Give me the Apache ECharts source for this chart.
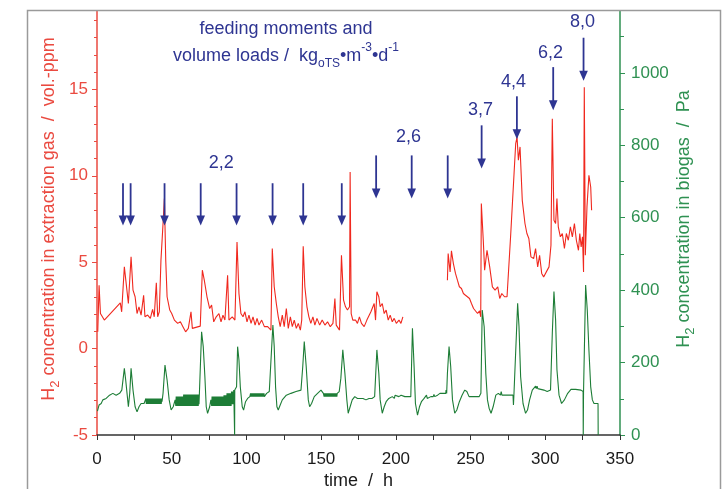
<!DOCTYPE html>
<html><head><meta charset="utf-8">
<script src="https://cdn.jsdelivr.net/npm/echarts@6/dist/echarts.min.js"></script>
<style>html,body{margin:0;padding:0;background:#fff}#c{width:726px;height:489px}</style>
</head><body><div id="c"></div>
<script>
// ---- data (time in h) ----
const xTicks = [0, 50, 100, 150, 200, 250, 300, 350];
const leftTicks = [-5, 0, 5, 10, 15];
const rightTicks = [0, 200, 400, 600, 800, 1000];

// H2 in extraction gas (vol.-ppm), [time, value]; null = gap
const h2Extraction = [
[0.5,0.97],[1.4,3.67],[2.3,2.03],[4.9,1.65],[15.6,2.65],[16.5,2.13],[18.3,4.73],[19.2,4.62],[21.0,2.61],[22.8,5.31],[24.1,3.38],[25.5,3.0],[26.8,2.03],[28.1,2.42],[29.5,1.94],[31.2,3.09],[32.1,1.84],[33.9,1.94],[35.7,1.75],[37.2,2.27],[38.3,1.84],[39.7,3.81],[40.6,1.84],[41.7,2.13],[42.8,5.12],[44.2,7.24],[45.1,8.68],[46.0,5.12],[46.9,3.0],[48.7,2.23],[50.0,2.03],[51.8,1.65],[54.0,1.46],[55.8,1.55],[57.5,1.27],[59.3,0.97],[61.1,1.17],[62.9,2.13],[63.8,1.17],[69.1,1.30],[70.5,4.54],[71.8,3.96],[73.6,3.0],[75.4,2.32],[76.7,2.52],[78.1,1.55],[79.8,1.84],[81.6,2.03],[83.0,1.55],[84.3,1.94],[85.6,1.65],[87.4,4.25],[88.3,1.65],[90.5,1.84],[92.3,1.65],[93.7,6.17],[95.0,3.19],[96.3,2.03],[97.7,1.84],[99.0,2.13],[100.4,1.55],[101.7,1.94],[103.1,1.46],[104.4,1.84],[105.8,1.36],[107.1,1.75],[108.4,1.36],[110.2,1.65],[112.0,1.27],[114.2,1.27],[116.4,1.07],[117.3,5.79],[118.6,3.58],[120.0,2.61],[121.3,1.84],[122.6,1.27],[124.0,1.94],[125.3,1.27],[126.7,2.32],[128.0,1.17],[129.4,1.84],[130.7,1.27],[132.0,1.65],[133.4,1.17],[134.7,1.46],[136.1,1.07],[137.0,1.65],[138.0,5.92],[139.1,3.58],[140.5,2.42],[141.8,1.84],[143.1,1.46],[144.5,1.84],[145.8,1.36],[147.2,1.75],[149.0,1.36],[150.7,1.65],[152.5,1.36],[154.3,1.55],[156.1,1.27],[157.9,1.46],[159.2,2.90],[160.1,1.36],[162.3,1.07],[163.6,5.40],[165.0,2.80],[166.3,2.42],[167.6,2.23],[169.0,2.42],[169.4,10.22],[170.1,2.03],[171.2,1.65],[173.0,1.65],[174.3,1.46],[175.6,1.84],[177.0,1.46],[178.8,1.27],[180.6,1.65],[181.9,1.55],[183.3,2.13],[184.6,2.03],[185.5,2.61],[186.4,1.65],[187.3,3.29],[188.6,3.0],[189.5,2.42],[190.9,2.61],[192.2,2.03],[193.5,2.23],[194.9,1.65],[196.2,1.94],[197.6,1.55],[198.9,1.75],[200.3,1.46],[202.1,1.65],[203.4,1.46],[204.7,1.84],
[220,null],
[234.5,3.96],[235.0,5.50],[236.3,4.44],[237.2,5.66],[238.5,4.92],[239.9,4.35],[241.2,3.96],[242.5,3.58],[243.9,3.48],[245.2,3.19],[246.6,3.09],[247.9,3.09],[249.3,2.90],[250.6,2.61],[252.0,2.32],[253.3,2.23],[254.7,2.03],[256.0,2.19],[256.8,1.84],[257.2,8.39],[258.5,6.27],[259.4,4.54],[261.0,5.69],[262.8,4.73],[264.6,3.57],[266.4,3.38],[268.2,3.57],[269.5,2.90],[270.9,3.19],[272.7,3.0],[274.4,3.0],[276.9,6.66],[279.1,10.13],[280.2,11.86],[281.1,12.24],[282.0,10.9],[283.1,11.67],[284.6,8.58],[286.4,7.24],[287.7,6.66],[289.0,6.37],[290.4,5.31],[292.2,5.21],[293.5,5.79],[294.9,4.73],[296.2,5.40],[297.6,4.35],[298.9,4.15],[300.7,4.44],[302.5,4.73],[303.8,5.98],[304.7,13.3],[305.8,7.43],[306.9,7.24],[307.8,8.68],[308.7,7.05],[310.1,6.47],[311.4,6.66],[312.8,5.79],[314.1,6.66],[315.4,6.27],[316.8,7.05],[318.1,6.47],[319.5,7.24],[320.8,6.27],[322.2,5.69],[323.1,6.66],[324.0,5.88],[324.9,6.47],[325.6,4.44],[326.1,15.13],[326.8,5.40],[327.9,8.2],[329.2,10.03],[330.4,9.35],[331.0,8.01]
];

// H2 in biogas (Pa), [time, value]
const h2Biogas = [
[0.3,66],[1.4,83],[2.8,87],[3.9,97],[6.1,101],[8.4,110],[10.6,115],[12.8,110],[13.3,115],[15.1,115],[16.6,124],[17.3,124],[18.3,184],[19.2,152],[20.1,115],[21.0,78],[21.9,115],[22.8,184],[24.1,124],[25.5,78],[26.8,64],[28.1,78],[29.5,87],[31.5,87],[32.0,92],
[32.5,86],[32.75,101],[33,86],[33.25,101],[33.5,86],[33.75,101],[34,86],[34.25,101],[34.5,86],[34.75,101],[35,86],[35.25,101],[35.5,86],[35.75,101],[36,86],[36.25,101],[36.5,86],[36.75,101],[37,86],[37.25,101],[37.5,86],[37.75,101],[38,86],[38.25,101],[38.5,86],[38.75,101],[39,86],[39.25,101],[39.5,86],[39.75,101],[40,86],[40.25,101],[40.5,86],[40.75,101],[41,86],[41.25,101],[41.5,86],[41.75,101],[42,86],[42.25,101],[42.5,86],[42.75,101],[43,86],[43.25,101],[43.5,92],
[44.2,115],[45.5,193],[46.9,152],[48.3,97],[49.6,69],[51.0,78],[52.3,97],
[52.75,80],[53,106],[53.25,80],[53.5,106],[53.75,80],[54,106],[54.25,80],[54.5,106],[54.75,80],[55,106],[55.25,80],[55.5,106],[55.75,80],[56,106],[56.25,80],[56.5,106],[56.75,80],[57,106],[57.25,80],[57.5,106],[57.75,80],[58,112],[58.25,80],[58.5,112],[58.75,80],[59,112],[59.25,80],[59.5,112],[59.75,80],[60,112],[60.25,80],[60.5,112],[60.75,80],[61,112],[61.25,80],[61.5,112],[61.75,80],[62,112],[62.25,80],[62.5,112],[62.75,80],[63,112],[63.25,80],[63.5,112],[63.75,80],[64,112],[64.25,80],[64.5,112],[64.75,80],[65,112],[65.25,80],[65.5,112],[65.75,80],[66,112],[66.25,80],[66.5,112],[66.75,80],[67,112],[67.25,80],[67.5,112],[67.75,80],[68,112],[68.25,85],[68.5,112],
[69.1,115],[70.0,285],[71.1,244],[72.2,161],[73.1,78],[74.0,60],[75.4,78],[76.2,97],
[76.75,80],[77,106],[77.25,80],[77.5,106],[77.75,80],[78,106],[78.25,80],[78.5,106],[78.75,80],[79,106],[79.25,80],[79.5,106],[79.75,80],[80,106],[80.25,80],[80.5,106],[80.75,80],[81,106],[81.25,80],[81.5,106],[81.75,80],[82,106],[82.25,80],[82.5,106],[82.75,80],[83,106],[83.25,80],[83.5,106],[83.75,80],[84,106],[84.25,80],[84.5,106],[84.75,80],[85,110],[85.25,80],[85.5,110],[85.75,80],[86,110],[86.25,80],[86.5,110],[86.75,80],[87,115],[87.25,80],[87.5,115],[87.75,80],[88,115],[88.25,80],[88.5,115],[88.75,80],[89,115],[89.25,80],[89.5,115],[89.75,80],[90,120],[90.25,85],[90.5,120],[90.75,85],[91,120],[91.25,85],[91.5,124],[92.0,124],[92.1,0],[92.2,124],
[93.4,133],[94.1,244],[95.0,207],[95.9,133],[97.2,78],[98.1,69],[99.4,92],[100.8,101],[102.3,106],
[102.75,115],[103,106],[103.25,115],[103.5,106],[103.75,115],[104,106],[104.25,115],[104.5,106],[104.75,115],[105,106],[105.25,115],[105.5,106],[105.75,115],[106,106],[106.25,115],[106.5,106],[106.75,115],[107,106],[107.25,115],[107.5,106],[107.75,115],[108,106],[108.25,115],[108.5,106],[108.75,115],[109,106],[109.25,115],[109.5,106],[109.75,115],[110,106],[110.25,115],[110.5,106],[110.75,115],[111,106],[111.25,115],[111.5,106],[111.75,115],[112,106],[112.25,110],[113.5,115],
[115.3,120],[116.6,124],[117.7,304],[118.6,244],[119.5,133],[120.4,78],[121.3,69],[122.6,83],[124.0,97],[125.3,101],[126.7,110],[129.8,115],[133.2,120],[136.5,124],[137.7,189],[138.7,258],[140.0,189],[141.4,97],[142.3,78],[143.6,87],[145.4,106],[147.6,115],[149.9,124],[151.5,115],
[152,106],[152.25,115],[152.5,106],[152.75,115],[153,106],[153.25,115],[153.5,106],[153.75,115],[154,106],[154.25,115],[154.5,106],[154.75,115],[155,106],[155.25,115],[155.5,106],[155.75,115],[156,106],[156.25,115],[156.5,106],[156.75,115],[157,106],[157.25,115],[157.5,106],[157.75,115],[158,106],[158.25,115],[158.5,106],[158.75,115],[159,106],[159.25,115],[159.5,106],[159.75,115],[160,106],[160.25,115],[160.5,106],[160.75,115],[161,110],
[162.1,120],[163.2,157],[164.5,235],[165.9,170],[167.2,97],[168.1,60],[169.4,78],[170.8,97],[172.5,106],[174.3,101],[178,101],[180,97],[182,101],[184,101],[185.8,106],[187.3,235],[188.6,170],[189.5,97],[190.9,60],[192.2,78],[193.5,92],[195.3,101],[197.6,106],
[198,101],[198.5,110],[199,101],[199.5,110],[200,106],[202,106],[202.5,110],[203,101],[203.5,110],[204,106],[206,106],[206.5,110],[207,101],[207.5,106],[210,106],
[211.1,295],[212.2,189],[213.1,87],[214.5,55],[215.8,78],[217.1,92],[218.9,101],[220,101],[220.5,110],[221,101],[221.5,106],[223.4,106],[225,106],[225.5,112],[226,106],[227.9,110],[229,110],[229.5,115],[230,110],[231.2,115],[233.4,115],[233.6,124],[234,115],[234.5,170],[235.6,244],[236.7,189],[237.9,97],[239.4,60],[240.8,69],[242.5,92],[244.3,110],[246.1,124],[247.5,120],[249,106],[255.8,106],[256.9,115],[257.8,345],[259.1,299],[260.2,170],[261.3,97],[262.4,74],[263.7,60],[265.1,78],[266.9,110],[268.6,115],[270,110],[270.5,120],[271,110],[273.5,110],[274,115],[274.5,110],[278.4,110],[278.7,83],[279,110],[279.8,110],[280.7,281],[281.5,364],[282.4,300],[283.5,161],[285.1,87],[286.8,60],[288.1,69],[289.5,97],[291.3,124],[292.6,128],[293.5,135],[294,128],[294.5,135],[295,128],[295.7,128],[299.1,124],[301.3,120],[303.5,124],[304.7,281],[305.8,396],[306.9,318],[307.8,180],[309.2,110],[310.9,87],[312.8,97],[315.0,115],[317.2,126],[320.3,126],[323.9,124],[324.7,120],[325.3,120],[325.4,0],[325.6,120],[326.1,120],[327.0,414],[328.1,345],[329.2,235],[330.4,133],[331.5,97],[332.6,87],[335.3,87],[335.4,0]
];

// feeding moments (arrows), on the left axis scale
const feedTimes = [17.4, 22.5, 45.2, 69.4, 93.4, 117.5, 138.0, 163.8, 186.8, 210.6, 234.7, 257.4, 281.0, 305.3, 325.6];
const arrowTop  = [9.57, 9.57, 9.57, 9.57, 9.57, 9.57, 9.57, 9.57, 11.18, 11.18, 11.18, 12.92, 14.6, 16.29, 17.99];
const arrowTip  = [7.12, 7.12, 7.12, 7.12, 7.12, 7.12, 7.12, 7.12, 8.68, 8.68, 8.68, 10.42, 12.12, 13.79, 15.5];

// volume load labels
const loadLabels = ['2,2', '2,6', '3,7', '4,4', '6,2', '8,0'];
const loadLabelT = [83.2, 208.5, 256.6, 278.7, 303.5, 324.9];
const loadLabelV = [10.74, 12.24, 13.81, 15.44, 17.13, 18.9];

// ---- styles ----
const RED = '#f0281e', RED_AX = '#ea4a40';
const GREEN = '#1d7d36', GREEN_AX = '#2f9152';
const NAVY = '#2e3592';
const FONT = '"Liberation Sans", Arial, sans-serif';

const chart = echarts.init(document.getElementById('c'), null, {renderer: 'canvas'});

const leftSet = new Set(leftTicks), rightSet = new Set(rightTicks), xSet = new Set(xTicks);

const option = {
  animation: false,
  grid: {left: 97, right: 106, top: 3, bottom: 54, containLabel: false, outerBoundsMode: 'none'},
  xAxis: {
    type: 'value', min: 0, max: 350, interval: 50,
    name: 'time  /  h', nameLocation: 'middle', nameGap: 37, nameMoveOverlap: false,
    nameTextStyle: {color: '#1a1a1a', fontSize: 18, fontFamily: FONT},
    axisLine: {show: true, onZero: false, lineStyle: {color: '#333', width: 1.5}},
    axisTick: {show: true, inside: false, length: 5, lineStyle: {color: '#333'}},
    minorTick: {show: true, splitNumber: 2, length: 5, lineStyle: {color: '#333'}},
    axisLabel: {color: '#1a1a1a', fontSize: 17, fontFamily: FONT, margin: 16,
      formatter: v => xSet.has(v) ? String(v) : ''},
    splitLine: {show: false}
  },
  yAxis: [{
    type: 'value', min: -5, max: 20, interval: 5, position: 'left',
    name: '{n|H}{s|2}{n| concentration in extraction gas  /  vol.-ppm}',
    nameLocation: 'middle', nameGap: 35, nameMoveOverlap: false,
    nameTextStyle: {color: RED_AX, fontSize: 18, fontFamily: FONT,
      rich: {n: {color: RED_AX, fontSize: 18, fontFamily: FONT, lineHeight: 26},
             s: {color: RED_AX, fontSize: 13, fontFamily: FONT, verticalAlign: 'bottom', lineHeight: 13}}},
    axisLine: {show: true, onZero: false, lineStyle: {color: RED_AX, width: 1.5}},
    axisTick: {show: true, inside: false, length: 5, lineStyle: {color: RED_AX}},
    minorTick: {show: true, splitNumber: 5, length: 3, lineStyle: {color: RED_AX}},
    axisLabel: {color: RED_AX, fontSize: 17, fontFamily: FONT, margin: 9,
      formatter: v => leftSet.has(v) ? String(v) : ''},
    splitLine: {show: false}
  }, {
    type: 'value', min: 0, max: 1193, interval: 200, position: 'right',
    name: '{n|H}{s|2}{n| concentration in biogas  /  Pa}',
    nameLocation: 'middle', nameGap: 51, nameMoveOverlap: false,
    nameTextStyle: {color: GREEN_AX, fontSize: 18, fontFamily: FONT,
      rich: {n: {color: GREEN_AX, fontSize: 18, fontFamily: FONT, lineHeight: 26},
             s: {color: GREEN_AX, fontSize: 13, fontFamily: FONT, verticalAlign: 'bottom', lineHeight: 13}}},
    axisLine: {show: true, onZero: false, lineStyle: {color: GREEN_AX, width: 1.5}},
    axisTick: {show: true, inside: false, length: 5, lineStyle: {color: GREEN_AX}},
    minorTick: {show: true, splitNumber: 2, length: 4, lineStyle: {color: GREEN_AX}},
    axisLabel: {color: GREEN_AX, fontSize: 17, fontFamily: FONT, margin: 11,
      formatter: v => rightSet.has(v) ? String(v) : ''},
    splitLine: {show: false}
  }],
  series: [{
    type: 'line', name: 'biogas', yAxisIndex: 1, data: h2Biogas,
    showSymbol: false, symbol: 'none', connectNulls: false,
    lineStyle: {color: GREEN, width: 1.1}, z: 2
  }, {
    type: 'line', name: 'extraction', yAxisIndex: 0, data: h2Extraction,
    showSymbol: false, symbol: 'none', connectNulls: false,
    lineStyle: {color: RED, width: 1.1}, z: 3
  }, {
    type: 'custom', name: 'feeding', yAxisIndex: 0,
    data: feedTimes.map((t, i) => [t, arrowTop[i], arrowTip[i]]),
    encode: {x: 0, y: [1, 2]},
    renderItem: function (params, api) {
      const a = api.coord([api.value(0), api.value(1)]);
      const b = api.coord([api.value(0), api.value(2)]);
      const hh = 10, hw = 4.3;
      return {type: 'group', children: [
        {type: 'line', shape: {x1: a[0], y1: a[1], x2: b[0], y2: b[1] - hh + 1},
         style: {stroke: NAVY, lineWidth: 1.8}},
        {type: 'polygon', shape: {points: [[b[0] - hw, b[1] - hh], [b[0] + hw, b[1] - hh], [b[0], b[1]]]},
         style: {fill: NAVY}}
      ]};
    }, z: 4
  }, {
    type: 'scatter', name: 'loads', yAxisIndex: 0, symbolSize: 0,
    itemStyle: {opacity: 1},
    data: loadLabels.map((s, i) => ({name: s, value: [loadLabelT[i], loadLabelV[i]]})),
    label: {show: true, position: 'inside', formatter: p => p.name, opacity: 1,
      color: NAVY, fontSize: 18, fontFamily: FONT}, z: 5
  }],
  graphic: [
    {type: 'rect', z: 100, shape: {x: 0, y: 0, width: 726, height: 10}, style: {fill: '#fff'}},
    {type: 'rect', z: 101, shape: {x: 27.5, y: 10.5, width: 693, height: 500},
     style: {fill: 'none', stroke: '#9a9a9a', lineWidth: 1.5}},
    {type: 'text', z: 102, x: 286, y: 29,
     style: {text: 'feeding moments and', fill: NAVY, fontSize: 18, fontFamily: FONT,
       align: 'center', verticalAlign: 'middle'}},
    {type: 'text', z: 102, x: 286, y: 56,
     style: {text: '{n|volume loads /  kg}{s|oTS}{n|•m}{p|-3}{n|•d}{p|-1}',
       fill: NAVY, fontSize: 18, fontFamily: FONT, align: 'center', verticalAlign: 'middle',
       rich: {n: {fill: NAVY, fontSize: 18, fontFamily: FONT, lineHeight: 28},
              s: {fill: NAVY, fontSize: 12, fontFamily: FONT, verticalAlign: 'bottom', lineHeight: 12},
              p: {fill: NAVY, fontSize: 12, fontFamily: FONT, verticalAlign: 'top', lineHeight: 12}}}}
  ]
};
chart.setOption(option);
</script></body></html>
